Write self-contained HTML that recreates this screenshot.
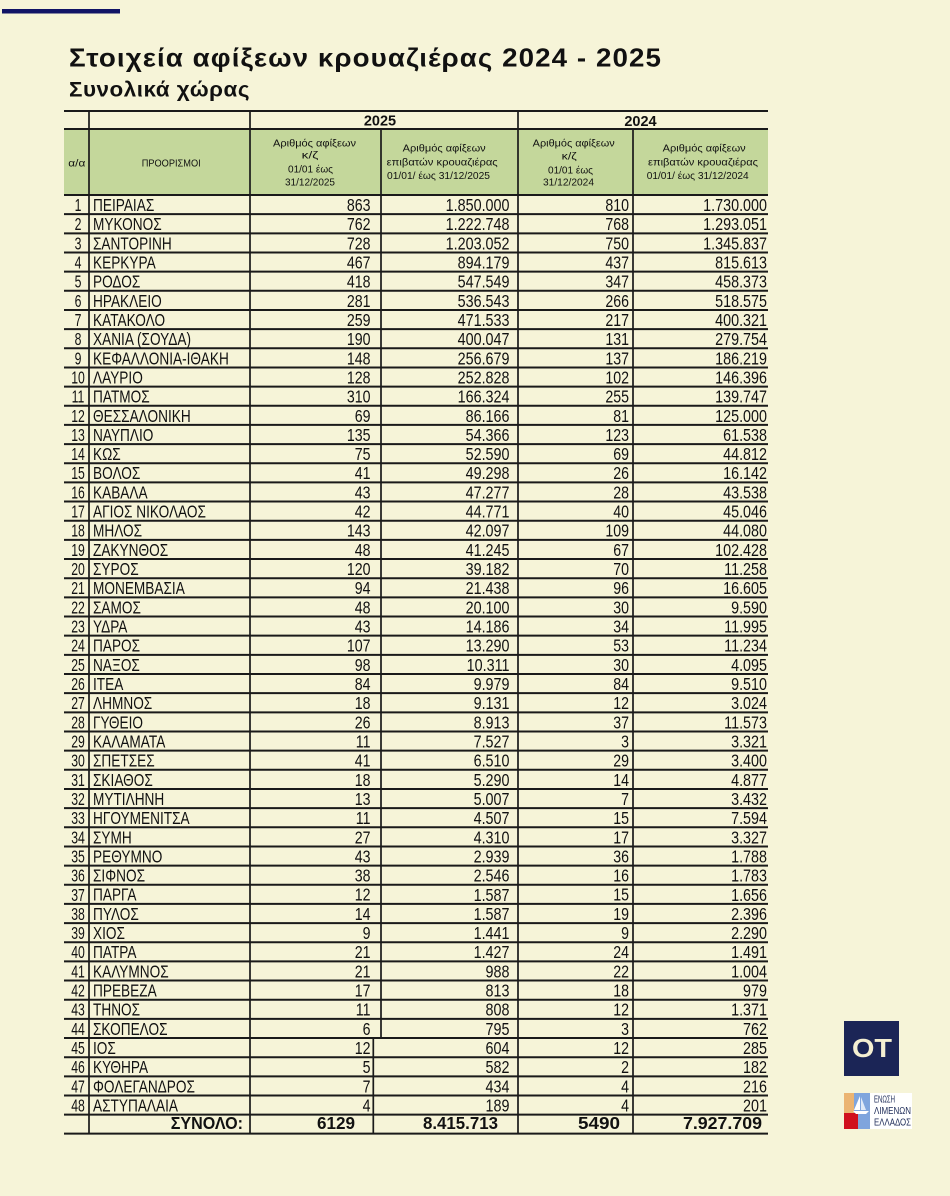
<!DOCTYPE html>
<html>
<head>
<meta charset="utf-8">
<style>
html,body{margin:0;padding:0;background:#f6f4d8;}
svg{display:block;}
text{font-family:"Liberation Sans","DejaVu Sans",sans-serif;fill:#111;}
.d{font-size:17.5px;}
.h{font-size:10.5px;}
.b{font-weight:bold;}
</style>
</head>
<body>
<svg width="950" height="1196" viewBox="0 0 950 1196" xmlns="http://www.w3.org/2000/svg">
<rect x="0" y="0" width="950" height="1196" fill="#f6f4d8"/>
<rect x="2" y="9" width="118" height="4.5" fill="#111466"/>

<text x="69" y="66.7" class="b" font-size="26" letter-spacing="1" textLength="593" lengthAdjust="spacingAndGlyphs">Στοιχεία αφίξεων κρουαζιέρας 2024 - 2025</text>
<text x="69" y="96.7" class="b" font-size="21.5" letter-spacing="0.5" textLength="181" lengthAdjust="spacingAndGlyphs">Συνολικά χώρας</text>

<!-- header green -->
<rect x="64" y="129" width="704" height="66" fill="#c4d79b"/>

<!-- year row -->
<text x="380" y="125.5" class="b" font-size="14.5" text-anchor="middle">2025</text>
<text x="640.5" y="126" class="b" font-size="14.5" text-anchor="middle">2024</text>

<!-- header texts -->
<text x="68.3" y="166.5" class="h" textLength="17" lengthAdjust="spacingAndGlyphs">α/α</text>
<text x="141.7" y="166.5" class="h" textLength="59" lengthAdjust="spacingAndGlyphs">ΠΡΟΟΡΙΣΜΟΙ</text>

<text x="273" y="146.7" class="h" textLength="83" lengthAdjust="spacingAndGlyphs">Αριθμός αφίξεων</text>
<text x="301.7" y="158.5" class="h" textLength="16.5" lengthAdjust="spacingAndGlyphs">κ/ζ</text>
<text x="288" y="172.3" class="h" textLength="45" lengthAdjust="spacingAndGlyphs">01/01 έως</text>
<text x="285" y="185.7" class="h" textLength="50" lengthAdjust="spacingAndGlyphs">31/12/2025</text>

<text x="402.7" y="151.7" class="h" textLength="83" lengthAdjust="spacingAndGlyphs">Αριθμός αφίξεων</text>
<text x="386.7" y="165.7" class="h" textLength="111" lengthAdjust="spacingAndGlyphs">επιβατών κρουαζιέρας</text>
<text x="387" y="179" class="h" textLength="103" lengthAdjust="spacingAndGlyphs">01/01/ έως  31/12/2025</text>

<text x="532.7" y="146.7" class="h" textLength="82" lengthAdjust="spacingAndGlyphs">Αριθμός αφίξεων</text>
<text x="561.7" y="159.5" class="h" textLength="15" lengthAdjust="spacingAndGlyphs">κ/ζ</text>
<text x="548" y="173.3" class="h" textLength="45" lengthAdjust="spacingAndGlyphs">01/01 έως</text>
<text x="543" y="185.7" class="h" textLength="51" lengthAdjust="spacingAndGlyphs">31/12/2024</text>

<text x="662.7" y="151.7" class="h" textLength="83" lengthAdjust="spacingAndGlyphs">Αριθμός αφίξεων</text>
<text x="648" y="165.7" class="h" textLength="110" lengthAdjust="spacingAndGlyphs">επιβατών κρουαζιέρας</text>
<text x="646.7" y="179" class="h" textLength="102" lengthAdjust="spacingAndGlyphs">01/01/ έως 31/12/2024</text>

<!-- horizontal lines -->
<path fill="none" stroke="#1a1a1a" stroke-width="2" d="M64 111H768M64 129H768M64 195H768M64 214.16H768M64 233.32H768M64 252.48H768M64 271.64H768M64 290.8H768M64 309.96H768M64 329.12H768M64 348.28H768M64 367.44H768M64 386.6H768M64 405.76H768M64 424.92H768M64 444.08H768M64 463.24H768M64 482.4H768M64 501.56H768M64 520.72H768M64 539.88H768M64 559.04H768M64 578.2H768M64 597.36H768M64 616.52H768M64 635.68H768M64 654.84H768M64 674H768M64 693.16H768M64 712.32H768M64 731.48H768M64 750.64H768M64 769.8H768M64 788.96H768M64 808.12H768M64 827.28H768M64 846.44H768M64 865.6H768M64 884.76H768M64 903.92H768M64 923.08H768M64 942.24H768M64 961.4H768M64 980.56H768M64 999.72H768M64 1018.88H768M64 1038.04H768M64 1057.2H768M64 1076.36H768M64 1095.52H768M64 1114.68H768M64 1133.6H768"/>
<!-- vertical lines -->
<path fill="none" stroke="#1a1a1a" stroke-width="1.7" d="M89 111V1133.6M250 111V1133.6M518 111V1133.6M633 129V1133.6M381 129V1038M373.3 1038V1133.6"/>

<!-- a/a -->
<g transform="translate(78,0) scale(0.7,1)">
<text class="d" y="211" text-anchor="middle"><tspan x="0">1</tspan><tspan x="0" dy="19.16">2</tspan><tspan x="0" dy="19.16">3</tspan><tspan x="0" dy="19.16">4</tspan><tspan x="0" dy="19.16">5</tspan><tspan x="0" dy="19.16">6</tspan><tspan x="0" dy="19.16">7</tspan><tspan x="0" dy="19.16">8</tspan><tspan x="0" dy="19.16">9</tspan><tspan x="0" dy="19.16">10</tspan><tspan x="0" dy="19.16">11</tspan><tspan x="0" dy="19.16">12</tspan><tspan x="0" dy="19.16">13</tspan><tspan x="0" dy="19.16">14</tspan><tspan x="0" dy="19.16">15</tspan><tspan x="0" dy="19.16">16</tspan><tspan x="0" dy="19.16">17</tspan><tspan x="0" dy="19.16">18</tspan><tspan x="0" dy="19.16">19</tspan><tspan x="0" dy="19.16">20</tspan><tspan x="0" dy="19.16">21</tspan><tspan x="0" dy="19.16">22</tspan><tspan x="0" dy="19.16">23</tspan><tspan x="0" dy="19.16">24</tspan><tspan x="0" dy="19.16">25</tspan><tspan x="0" dy="19.16">26</tspan><tspan x="0" dy="19.16">27</tspan><tspan x="0" dy="19.16">28</tspan><tspan x="0" dy="19.16">29</tspan><tspan x="0" dy="19.16">30</tspan><tspan x="0" dy="19.16">31</tspan><tspan x="0" dy="19.16">32</tspan><tspan x="0" dy="19.16">33</tspan><tspan x="0" dy="19.16">34</tspan><tspan x="0" dy="19.16">35</tspan><tspan x="0" dy="19.16">36</tspan><tspan x="0" dy="19.16">37</tspan><tspan x="0" dy="19.16">38</tspan><tspan x="0" dy="19.16">39</tspan><tspan x="0" dy="19.16">40</tspan><tspan x="0" dy="19.16">41</tspan><tspan x="0" dy="19.16">42</tspan><tspan x="0" dy="19.16">43</tspan><tspan x="0" dy="19.16">44</tspan><tspan x="0" dy="19.16">45</tspan><tspan x="0" dy="19.16">46</tspan><tspan x="0" dy="19.16">47</tspan><tspan x="0" dy="19.16">48</tspan></text>
</g>

<!-- names -->
<g transform="translate(93,0) scale(0.78,1)">
<text class="d" y="211"><tspan x="0">ΠΕΙΡΑΙΑΣ</tspan><tspan x="0" dy="19.16">ΜΥΚΟΝΟΣ</tspan><tspan x="0" dy="19.16">ΣΑΝΤΟΡΙΝΗ</tspan><tspan x="0" dy="19.16">ΚΕΡΚΥΡΑ</tspan><tspan x="0" dy="19.16">ΡΟΔΟΣ</tspan><tspan x="0" dy="19.16">ΗΡΑΚΛΕΙΟ</tspan><tspan x="0" dy="19.16">ΚΑΤΑΚΟΛΟ</tspan><tspan x="0" dy="19.16">ΧΑΝΙΑ (ΣΟΥΔΑ)</tspan><tspan x="0" dy="19.16">ΚΕΦΑΛΛΟΝΙΑ-ΙΘΑΚΗ</tspan><tspan x="0" dy="19.16">ΛΑΥΡΙΟ</tspan><tspan x="0" dy="19.16">ΠΑΤΜΟΣ</tspan><tspan x="0" dy="19.16">ΘΕΣΣΑΛΟΝΙΚΗ</tspan><tspan x="0" dy="19.16">ΝΑΥΠΛΙΟ</tspan><tspan x="0" dy="19.16">ΚΩΣ</tspan><tspan x="0" dy="19.16">ΒΟΛΟΣ</tspan><tspan x="0" dy="19.16">ΚΑΒΑΛΑ</tspan><tspan x="0" dy="19.16">ΑΓΙΟΣ ΝΙΚΟΛΑΟΣ</tspan><tspan x="0" dy="19.16">ΜΗΛΟΣ</tspan><tspan x="0" dy="19.16">ΖΑΚΥΝΘΟΣ</tspan><tspan x="0" dy="19.16">ΣΥΡΟΣ</tspan><tspan x="0" dy="19.16">ΜΟΝΕΜΒΑΣΙΑ</tspan><tspan x="0" dy="19.16">ΣΑΜΟΣ</tspan><tspan x="0" dy="19.16">ΥΔΡΑ</tspan><tspan x="0" dy="19.16">ΠΑΡΟΣ</tspan><tspan x="0" dy="19.16">ΝΑΞΟΣ</tspan><tspan x="0" dy="19.16">ΙΤΕΑ</tspan><tspan x="0" dy="19.16">ΛΗΜΝΟΣ</tspan><tspan x="0" dy="19.16">ΓΥΘΕΙΟ</tspan><tspan x="0" dy="19.16">ΚΑΛΑΜΑΤΑ</tspan><tspan x="0" dy="19.16">ΣΠΕΤΣΕΣ</tspan><tspan x="0" dy="19.16">ΣΚΙΑΘΟΣ</tspan><tspan x="0" dy="19.16">ΜΥΤΙΛΗΝΗ</tspan><tspan x="0" dy="19.16">ΗΓΟΥΜΕΝΙΤΣΑ</tspan><tspan x="0" dy="19.16">ΣΥΜΗ</tspan><tspan x="0" dy="19.16">ΡΕΘΥΜΝΟ</tspan><tspan x="0" dy="19.16">ΣΙΦΝΟΣ</tspan><tspan x="0" dy="19.16">ΠΑΡΓΑ</tspan><tspan x="0" dy="19.16">ΠΥΛΟΣ</tspan><tspan x="0" dy="19.16">ΧΙΟΣ</tspan><tspan x="0" dy="19.16">ΠΑΤΡΑ</tspan><tspan x="0" dy="19.16">ΚΑΛΥΜΝΟΣ</tspan><tspan x="0" dy="19.16">ΠΡΕΒΕΖΑ</tspan><tspan x="0" dy="19.16">ΤΗΝΟΣ</tspan><tspan x="0" dy="19.16">ΣΚΟΠΕΛΟΣ</tspan><tspan x="0" dy="19.16">ΙΟΣ</tspan><tspan x="0" dy="19.16">ΚΥΘΗΡΑ</tspan><tspan x="0" dy="19.16">ΦΟΛΕΓΑΝΔΡΟΣ</tspan><tspan x="0" dy="19.16">ΑΣΤΥΠΑΛΑΙΑ</tspan></text>
</g>

<!-- ships 2025 -->
<g transform="translate(370.5,0) scale(0.81,1)">
<text class="d" y="211" text-anchor="end"><tspan x="0">863</tspan><tspan x="0" dy="19.16">762</tspan><tspan x="0" dy="19.16">728</tspan><tspan x="0" dy="19.16">467</tspan><tspan x="0" dy="19.16">418</tspan><tspan x="0" dy="19.16">281</tspan><tspan x="0" dy="19.16">259</tspan><tspan x="0" dy="19.16">190</tspan><tspan x="0" dy="19.16">148</tspan><tspan x="0" dy="19.16">128</tspan><tspan x="0" dy="19.16">310</tspan><tspan x="0" dy="19.16">69</tspan><tspan x="0" dy="19.16">135</tspan><tspan x="0" dy="19.16">75</tspan><tspan x="0" dy="19.16">41</tspan><tspan x="0" dy="19.16">43</tspan><tspan x="0" dy="19.16">42</tspan><tspan x="0" dy="19.16">143</tspan><tspan x="0" dy="19.16">48</tspan><tspan x="0" dy="19.16">120</tspan><tspan x="0" dy="19.16">94</tspan><tspan x="0" dy="19.16">48</tspan><tspan x="0" dy="19.16">43</tspan><tspan x="0" dy="19.16">107</tspan><tspan x="0" dy="19.16">98</tspan><tspan x="0" dy="19.16">84</tspan><tspan x="0" dy="19.16">18</tspan><tspan x="0" dy="19.16">26</tspan><tspan x="0" dy="19.16">11</tspan><tspan x="0" dy="19.16">41</tspan><tspan x="0" dy="19.16">18</tspan><tspan x="0" dy="19.16">13</tspan><tspan x="0" dy="19.16">11</tspan><tspan x="0" dy="19.16">27</tspan><tspan x="0" dy="19.16">43</tspan><tspan x="0" dy="19.16">38</tspan><tspan x="0" dy="19.16">12</tspan><tspan x="0" dy="19.16">14</tspan><tspan x="0" dy="19.16">9</tspan><tspan x="0" dy="19.16">21</tspan><tspan x="0" dy="19.16">21</tspan><tspan x="0" dy="19.16">17</tspan><tspan x="0" dy="19.16">11</tspan><tspan x="0" dy="19.16">6</tspan><tspan x="0" dy="19.16">12</tspan><tspan x="0" dy="19.16">5</tspan><tspan x="0" dy="19.16">7</tspan><tspan x="0" dy="19.16">4</tspan></text>
</g>

<!-- passengers 2025 -->
<g transform="translate(509.5,0) scale(0.82,1)">
<text class="d" y="211" text-anchor="end"><tspan x="0">1.850.000</tspan><tspan x="0" dy="19.16">1.222.748</tspan><tspan x="0" dy="19.16">1.203.052</tspan><tspan x="0" dy="19.16">894.179</tspan><tspan x="0" dy="19.16">547.549</tspan><tspan x="0" dy="19.16">536.543</tspan><tspan x="0" dy="19.16">471.533</tspan><tspan x="0" dy="19.16">400.047</tspan><tspan x="0" dy="19.16">256.679</tspan><tspan x="0" dy="19.16">252.828</tspan><tspan x="0" dy="19.16">166.324</tspan><tspan x="0" dy="19.16">86.166</tspan><tspan x="0" dy="19.16">54.366</tspan><tspan x="0" dy="19.16">52.590</tspan><tspan x="0" dy="19.16">49.298</tspan><tspan x="0" dy="19.16">47.277</tspan><tspan x="0" dy="19.16">44.771</tspan><tspan x="0" dy="19.16">42.097</tspan><tspan x="0" dy="19.16">41.245</tspan><tspan x="0" dy="19.16">39.182</tspan><tspan x="0" dy="19.16">21.438</tspan><tspan x="0" dy="19.16">20.100</tspan><tspan x="0" dy="19.16">14.186</tspan><tspan x="0" dy="19.16">13.290</tspan><tspan x="0" dy="19.16">10.311</tspan><tspan x="0" dy="19.16">9.979</tspan><tspan x="0" dy="19.16">9.131</tspan><tspan x="0" dy="19.16">8.913</tspan><tspan x="0" dy="19.16">7.527</tspan><tspan x="0" dy="19.16">6.510</tspan><tspan x="0" dy="19.16">5.290</tspan><tspan x="0" dy="19.16">5.007</tspan><tspan x="0" dy="19.16">4.507</tspan><tspan x="0" dy="19.16">4.310</tspan><tspan x="0" dy="19.16">2.939</tspan><tspan x="0" dy="19.16">2.546</tspan><tspan x="0" dy="19.16">1.587</tspan><tspan x="0" dy="19.16">1.587</tspan><tspan x="0" dy="19.16">1.441</tspan><tspan x="0" dy="19.16">1.427</tspan><tspan x="0" dy="19.16">988</tspan><tspan x="0" dy="19.16">813</tspan><tspan x="0" dy="19.16">808</tspan><tspan x="0" dy="19.16">795</tspan><tspan x="0" dy="19.16">604</tspan><tspan x="0" dy="19.16">582</tspan><tspan x="0" dy="19.16">434</tspan><tspan x="0" dy="19.16">189</tspan></text>
</g>

<!-- ships 2024 -->
<g transform="translate(629,0) scale(0.81,1)">
<text class="d" y="211" text-anchor="end"><tspan x="0">810</tspan><tspan x="0" dy="19.16">768</tspan><tspan x="0" dy="19.16">750</tspan><tspan x="0" dy="19.16">437</tspan><tspan x="0" dy="19.16">347</tspan><tspan x="0" dy="19.16">266</tspan><tspan x="0" dy="19.16">217</tspan><tspan x="0" dy="19.16">131</tspan><tspan x="0" dy="19.16">137</tspan><tspan x="0" dy="19.16">102</tspan><tspan x="0" dy="19.16">255</tspan><tspan x="0" dy="19.16">81</tspan><tspan x="0" dy="19.16">123</tspan><tspan x="0" dy="19.16">69</tspan><tspan x="0" dy="19.16">26</tspan><tspan x="0" dy="19.16">28</tspan><tspan x="0" dy="19.16">40</tspan><tspan x="0" dy="19.16">109</tspan><tspan x="0" dy="19.16">67</tspan><tspan x="0" dy="19.16">70</tspan><tspan x="0" dy="19.16">96</tspan><tspan x="0" dy="19.16">30</tspan><tspan x="0" dy="19.16">34</tspan><tspan x="0" dy="19.16">53</tspan><tspan x="0" dy="19.16">30</tspan><tspan x="0" dy="19.16">84</tspan><tspan x="0" dy="19.16">12</tspan><tspan x="0" dy="19.16">37</tspan><tspan x="0" dy="19.16">3</tspan><tspan x="0" dy="19.16">29</tspan><tspan x="0" dy="19.16">14</tspan><tspan x="0" dy="19.16">7</tspan><tspan x="0" dy="19.16">15</tspan><tspan x="0" dy="19.16">17</tspan><tspan x="0" dy="19.16">36</tspan><tspan x="0" dy="19.16">16</tspan><tspan x="0" dy="19.16">15</tspan><tspan x="0" dy="19.16">19</tspan><tspan x="0" dy="19.16">9</tspan><tspan x="0" dy="19.16">24</tspan><tspan x="0" dy="19.16">22</tspan><tspan x="0" dy="19.16">18</tspan><tspan x="0" dy="19.16">12</tspan><tspan x="0" dy="19.16">3</tspan><tspan x="0" dy="19.16">12</tspan><tspan x="0" dy="19.16">2</tspan><tspan x="0" dy="19.16">4</tspan><tspan x="0" dy="19.16">4</tspan></text>
</g>

<!-- passengers 2024 -->
<g transform="translate(767,0) scale(0.82,1)">
<text class="d" y="211" text-anchor="end"><tspan x="0">1.730.000</tspan><tspan x="0" dy="19.16">1.293.051</tspan><tspan x="0" dy="19.16">1.345.837</tspan><tspan x="0" dy="19.16">815.613</tspan><tspan x="0" dy="19.16">458.373</tspan><tspan x="0" dy="19.16">518.575</tspan><tspan x="0" dy="19.16">400.321</tspan><tspan x="0" dy="19.16">279.754</tspan><tspan x="0" dy="19.16">186.219</tspan><tspan x="0" dy="19.16">146.396</tspan><tspan x="0" dy="19.16">139.747</tspan><tspan x="0" dy="19.16">125.000</tspan><tspan x="0" dy="19.16">61.538</tspan><tspan x="0" dy="19.16">44.812</tspan><tspan x="0" dy="19.16">16.142</tspan><tspan x="0" dy="19.16">43.538</tspan><tspan x="0" dy="19.16">45.046</tspan><tspan x="0" dy="19.16">44.080</tspan><tspan x="0" dy="19.16">102.428</tspan><tspan x="0" dy="19.16">11.258</tspan><tspan x="0" dy="19.16">16.605</tspan><tspan x="0" dy="19.16">9.590</tspan><tspan x="0" dy="19.16">11.995</tspan><tspan x="0" dy="19.16">11.234</tspan><tspan x="0" dy="19.16">4.095</tspan><tspan x="0" dy="19.16">9.510</tspan><tspan x="0" dy="19.16">3.024</tspan><tspan x="0" dy="19.16">11.573</tspan><tspan x="0" dy="19.16">3.321</tspan><tspan x="0" dy="19.16">3.400</tspan><tspan x="0" dy="19.16">4.877</tspan><tspan x="0" dy="19.16">3.432</tspan><tspan x="0" dy="19.16">7.594</tspan><tspan x="0" dy="19.16">3.327</tspan><tspan x="0" dy="19.16">1.788</tspan><tspan x="0" dy="19.16">1.783</tspan><tspan x="0" dy="19.16">1.656</tspan><tspan x="0" dy="19.16">2.396</tspan><tspan x="0" dy="19.16">2.290</tspan><tspan x="0" dy="19.16">1.491</tspan><tspan x="0" dy="19.16">1.004</tspan><tspan x="0" dy="19.16">979</tspan><tspan x="0" dy="19.16">1.371</tspan><tspan x="0" dy="19.16">762</tspan><tspan x="0" dy="19.16">285</tspan><tspan x="0" dy="19.16">182</tspan><tspan x="0" dy="19.16">216</tspan><tspan x="0" dy="19.16">201</tspan></text>
</g>

<!-- totals -->
<g transform="translate(243,0) scale(0.92,1)">
<text x="0" y="1129" class="b" font-size="17.5" text-anchor="end">ΣΥΝΟΛΟ:</text>
</g>
<text x="317" y="1129" class="b" font-size="17.5" textLength="38" lengthAdjust="spacingAndGlyphs">6129</text>
<text x="423" y="1129" class="b" font-size="17.5" textLength="75" lengthAdjust="spacingAndGlyphs">8.415.713</text>
<text x="578" y="1129" class="b" font-size="17.5" textLength="42" lengthAdjust="spacingAndGlyphs">5490</text>
<text x="683" y="1129" class="b" font-size="17.5" textLength="79" lengthAdjust="spacingAndGlyphs">7.927.709</text>

<!-- OT logo -->
<rect x="844" y="1021" width="55" height="55" fill="#1b2556"/>
<text x="852" y="1057" class="b" font-size="26" textLength="40" lengthAdjust="spacingAndGlyphs" style="fill:#f4efd2">OT</text>

<!-- ports union logo -->
<rect x="844" y="1093" width="68" height="36" fill="#ffffff"/>
<rect x="844" y="1093" width="26" height="36" fill="#7fa5dd"/>
<rect x="844" y="1093" width="10" height="20" fill="#ebb472"/>
<rect x="844" y="1113" width="14" height="16" fill="#d0101e"/>
<path d="M860 1096 L860 1110 L854 1110 Z" fill="#ffffff"/>
<path d="M861 1097 L866 1110 L861 1110 Z" fill="#dfe9f7"/>
<path d="M853 1111 L869 1111 L866 1114 L856 1114 Z" fill="#ffffff"/>
<text x="874" y="1102.5" font-size="10" textLength="21" lengthAdjust="spacingAndGlyphs" style="fill:#1c2a57">ΕΝΩΣΗ</text>
<text x="874" y="1114" font-size="10" textLength="37" lengthAdjust="spacingAndGlyphs" style="fill:#1c2a57">ΛΙΜΕΝΩΝ</text>
<text x="874" y="1125.5" font-size="10" textLength="37" lengthAdjust="spacingAndGlyphs" style="fill:#1c2a57">ΕΛΛΑΔΟΣ</text>
</svg>
</body>
</html>
